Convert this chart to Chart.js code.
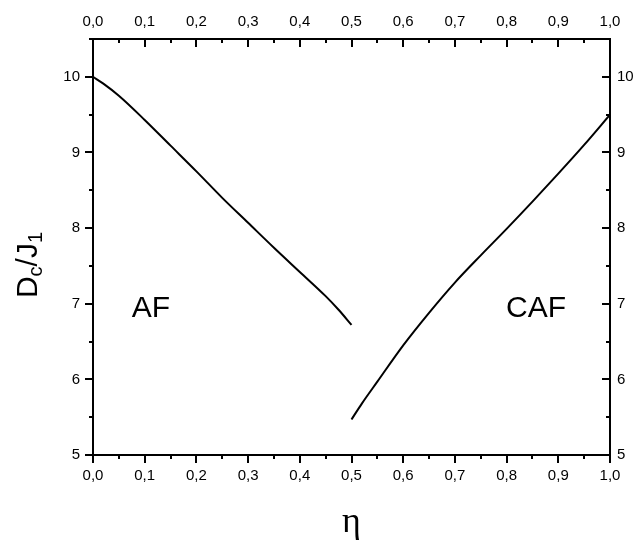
<!DOCTYPE html>
<html>
<head>
<meta charset="utf-8">
<style>
  html, body { margin: 0; padding: 0; background: #fff; }
  canvas { display: block; }
</style>
<script src="https://cdn.jsdelivr.net/npm/chart.js@4.4.1/dist/chart.umd.min.js"></script>
</head>
<body>
<canvas id="phase" width="638" height="542"></canvas>
<script>
'use strict';

// critical D_c/J_1 against eta, AF branch (eta <= 0.5)
const etaAF = [0, 0.02, 0.05, 0.1, 0.15, 0.2, 0.25, 0.3, 0.35, 0.4, 0.45, 0.475, 0.5];
const dcAF  = [10.0, 9.91, 9.75, 9.43, 9.09, 8.75, 8.40, 8.07, 7.74, 7.42, 7.10, 6.92, 6.72];

// CAF branch (eta >= 0.5)
const etaCAF = [0.5, 0.52, 0.55, 0.6, 0.65, 0.7, 0.75, 0.8, 0.85, 0.9, 0.95, 1.0];
const dcCAF  = [5.47, 5.68, 5.97, 6.45, 6.88, 7.28, 7.64, 7.99, 8.35, 8.72, 9.10, 9.50];

const xTickValues = [0, 0.1, 0.2, 0.3, 0.4, 0.5, 0.6, 0.7, 0.8, 0.9, 1.0];
const yTickValues = [5, 6, 7, 8, 9, 10];
const regionNames = ['AF', 'CAF'];

const FONT = 'Arial, "Liberation Sans", sans-serif';
const SERIF = '"Liberation Serif", "Times New Roman", serif';

const commaFmt = v => v.toFixed(1).replace('.', ',');
const setTicks = values => scale => { scale.ticks = values.map(v => ({ value: v })); };
const fixSize = (key, px) => scale => { scale[key] = px; };

function axis(position, values, fmt, pad, size, extra) {
  const horizontal = position === 'top' || position === 'bottom';
  return Object.assign({
    type: 'linear',
    position,
    grid: { display: false, drawTicks: false },
    border: { display: true, color: '#000', width: 2 },
    ticks: {
      color: '#000',
      padding: pad,
      font: { family: FONT, size: 15 },
      callback: fmt,
      maxRotation: 0,
      autoSkip: false
    },
    afterBuildTicks: setTicks(values),
    afterFit: fixSize(horizontal ? 'height' : 'width', size)
  }, extra);
}

// minor/major tick marks: bottom & left point outwards, top & right point inwards
const frameTicks = {
  id: 'frameTicks',
  afterDraw(chart) {
    const { ctx, chartArea: a } = chart;
    const { x, y } = chart.scales;
    const major = 8, minor = 4;
    ctx.save();
    ctx.strokeStyle = '#000';
    ctx.lineWidth = 2;
    ctx.beginPath();
    xTickValues.forEach((v, i) => {
      const px = Math.round(x.getPixelForValue(v));
      ctx.moveTo(px, a.bottom); ctx.lineTo(px, a.bottom + major);
      ctx.moveTo(px, a.top); ctx.lineTo(px, a.top + major);
      if (i < xTickValues.length - 1) {
        const pm = Math.round(x.getPixelForValue((v + xTickValues[i + 1]) / 2));
        ctx.moveTo(pm, a.bottom); ctx.lineTo(pm, a.bottom + minor);
        ctx.moveTo(pm, a.top); ctx.lineTo(pm, a.top + minor);
      }
    });
    const yMinor = yTickValues.map(v => v + 0.5);
    yTickValues.forEach(v => {
      const py = Math.round(y.getPixelForValue(v));
      ctx.moveTo(a.left - major, py); ctx.lineTo(a.left, py);
      ctx.moveTo(a.right - major, py); ctx.lineTo(a.right, py);
    });
    yMinor.forEach(v => {
      const py = Math.round(y.getPixelForValue(v));
      ctx.moveTo(a.left - minor, py); ctx.lineTo(a.left, py);
      ctx.moveTo(a.right - minor, py); ctx.lineTo(a.right, py);
    });
    ctx.stroke();

    // phase names
    ctx.fillStyle = '#000';
    ctx.textBaseline = 'alphabetic';
    ctx.textAlign = 'left';
    ctx.font = '30px ' + FONT;
    ctx.fillText(regionNames[0], x.getPixelForValue(0.075), y.getPixelForValue(6.83));
    ctx.fillText(regionNames[1], x.getPixelForValue(0.799), y.getPixelForValue(6.83));

    // x title
    ctx.font = '36px ' + SERIF;
    ctx.textAlign = 'center';
    ctx.fillText('η', x.getPixelForValue(0.5), 532);

    // y title with subscripts, rotated
    const parts = [
      { t: 'D', big: true }, { t: 'c', big: false },
      { t: '/', big: true }, { t: 'J', big: true }, { t: '1', big: false }
    ];
    const bigF = '30px ' + FONT, subF = '20px ' + FONT;
    let total = 0;
    parts.forEach(p => { ctx.font = p.big ? bigF : subF; p.w = ctx.measureText(p.t).width; total += p.w; });
    ctx.translate(37, 265);
    ctx.rotate(-Math.PI / 2);
    ctx.textAlign = 'left';
    let cx = -total / 2;
    parts.forEach(p => {
      ctx.font = p.big ? bigF : subF;
      ctx.fillText(p.t, cx, p.big ? 0 : 5);
      cx += p.w;
    });
    ctx.restore();
  }
};

const lineStyle = {
  borderColor: '#000',
  borderWidth: 2,
  pointRadius: 0,
  fill: false,
  cubicInterpolationMode: 'monotone'
};

new Chart(document.getElementById('phase'), {
  type: 'line',
  data: {
    datasets: [
      Object.assign({ label: 'AF', data: etaAF.map((e, i) => ({ x: e, y: dcAF[i] })) }, lineStyle),
      Object.assign({ label: 'CAF', data: etaCAF.map((e, i) => ({ x: e, y: dcCAF[i] })) }, lineStyle)
    ]
  },
  options: {
    responsive: false,
    animation: false,
    devicePixelRatio: 1,
    layout: { padding: 0 },
    plugins: { legend: { display: false }, tooltip: { enabled: false } },
    scales: {
      x:  axis('bottom', xTickValues, commaFmt, 12, 87, { min: 0, max: 1 }),
      x2: axis('top', xTickValues, commaFmt, 8, 39, { min: 0, max: 1 }),
      y:  axis('left', yTickValues, v => String(v), 13, 93, { min: 5, max: 10.5 }),
      y2: axis('right', yTickValues, v => String(v), 7, 28, { min: 5, max: 10.5 })
    }
  },
  plugins: [frameTicks]
});
</script>
</body>
</html>
